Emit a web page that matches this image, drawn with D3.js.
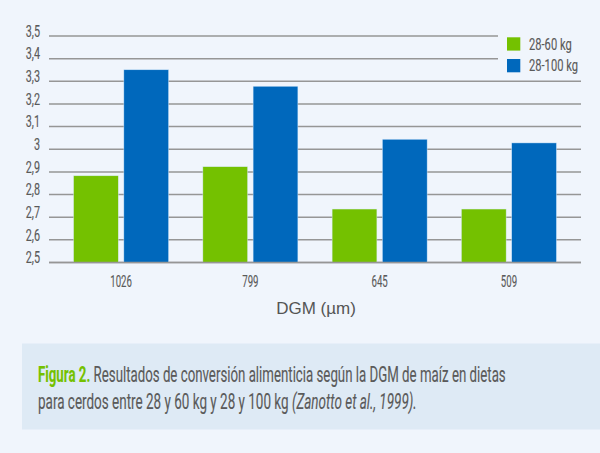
<!DOCTYPE html>
<html><head><meta charset="utf-8">
<script src="https://cdn.jsdelivr.net/npm/d3@7"></script>
<style>
html,body{margin:0;padding:0;background:#f0f5fc;}
svg{display:block;}
.th{stroke:#5a5a5a;stroke-width:0.15px;}
</style></head>
<body>
<svg id="c" width="600" height="453"></svg>
<script>
const categories = ["1026","799","645","509"];
const seriesNames = ["28-60 kg","28-100 kg"];
const series1 = [2.883, 2.923, 2.736, 2.736];
const series2 = [3.351, 3.278, 3.044, 3.028];
const yTicks = [2.5,2.6,2.7,2.8,2.9,3.0,3.1,3.2,3.3,3.4,3.5];
const colors = ["#74c100","#0068bc"];
const xTitle = "DGM (µm)";

const FONT = "Roboto, 'Noto Sans', sans-serif";
const TXT = "#5a5a5a";
const svg = d3.select("#c");
svg.append("rect").attr("width",600).attr("height",453).attr("fill","#f0f5fc");

function scaleFor(str, size, target, weight){
  const t = svg.append("text").attr("font-family",FONT).attr("font-size",size)
    .attr("font-weight",weight||"normal").text(str);
  const w = t.node().getComputedTextLength();
  t.remove();
  return target / w;
}

const y = d3.scaleLinear().domain([2.5,3.5]).range([262.5,36]);
const x0 = d3.scaleBand().domain(categories).range([49,581]).paddingInner(0.265).paddingOuter(0.19);
const x1 = d3.scaleBand().domain(seriesNames).range([0,x0.bandwidth()]).paddingInner(0.11);

// gridlines
const gridG = svg.append("g");
yTicks.forEach(t=>{
  const short = t>=3.4;
  gridG.append("line").attr("x1",49).attr("x2",short?498:581)
    .attr("y1",y(t)).attr("y2",y(t)).attr("stroke","#969696").attr("stroke-width",1.5);
});

// y labels
const fmt = v => d3.format(".1~f")(v).replace(".",",");
const sy = scaleFor("3,5",16,14.3);
svg.append("g").selectAll("text").data(yTicks).join("text")
  .attr("class","th").attr("font-family",FONT).attr("transform",d=>`translate(40,${y(d)+0.8}) scale(${sy},1)`)
  .attr("text-anchor","end").attr("font-size",16).attr("fill",TXT)
  .text(fmt);

// bars
const data = categories.map((c,i)=>({c, vals:[series1[i],series2[i]]}));
const g = svg.append("g");
data.forEach(d=>{
  d.vals.forEach((v,j)=>{
    g.append("rect").attr("x",x0(d.c)+x1(seriesNames[j])).attr("width",x1.bandwidth())
      .attr("y",y(v)).attr("height",y(2.5)-y(v)).attr("fill",colors[j])
      .attr("stroke","#d8ecff").attr("stroke-width",0.6).attr("stroke-opacity",0.7);
  });
});

// x axis line
svg.append("line").attr("x1",49).attr("x2",581).attr("y1",y(2.5)).attr("y2",y(2.5))
  .attr("stroke","#969696").attr("stroke-width",1.5);

// x labels
const sx = scaleFor("1026",17,21.7);
svg.append("g").selectAll("text").data(categories).join("text")
  .attr("class","th").attr("font-family",FONT)
  .attr("transform",d=>`translate(${x0(d)+x0.bandwidth()/2},287) scale(${sx},1)`)
  .attr("text-anchor","middle").attr("font-size",17).attr("fill",TXT).text(d=>d);

svg.append("text").attr("x",316).attr("y",314).attr("text-anchor","middle")
  .attr("font-family","'Liberation Sans', Arial, sans-serif").attr("font-size",17).attr("fill","#555").text(xTitle);

// legend
const sl = scaleFor("28-100 kg",16.5,49);
const lg = svg.append("g");
seriesNames.forEach((s,i)=>{
  lg.append("rect").attr("x",507).attr("y",37.3+i*21.7).attr("width",13.3).attr("height",13.3).attr("fill",colors[i]);
  lg.append("text").attr("class","th").attr("font-family",FONT)
    .attr("transform",`translate(529,${49.8+i*21}) scale(${sl},1)`)
    .attr("font-size",16.5).attr("fill",TXT).text(s);
});

// caption box
svg.append("rect").attr("x",22).attr("y",343.5).attr("width",578).attr("height",86).attr("fill","#deeaf5");
const capSize = 22;
function caption(yPos, parts, target){
  const t = svg.append("text").attr("font-family",FONT).attr("font-size",capSize).attr("fill",TXT)
    .attr("stroke",TXT).attr("stroke-width",0.15);
  parts.forEach(p=>{
    const ts = t.append("tspan").text(p.text);
    if(p.bold) ts.attr("font-weight","bold").attr("fill","#74c100").attr("stroke","#74c100");
    if(p.italic) ts.attr("font-style","italic");
  });
  const w = t.node().getComputedTextLength();
  t.attr("transform",`translate(38,${yPos}) scale(${target/w},1)`);
}
caption(381.5,[{text:"Figura 2.",bold:true},{text:" Resultados de conversión alimenticia según la DGM de maíz en dietas"}],468);
caption(408.5,[{text:"para cerdos entre 28 y 60 kg y 28 y 100 kg "},{text:"(Zanotto et al., 1999).",italic:true}],379);
</script>
</body></html>
